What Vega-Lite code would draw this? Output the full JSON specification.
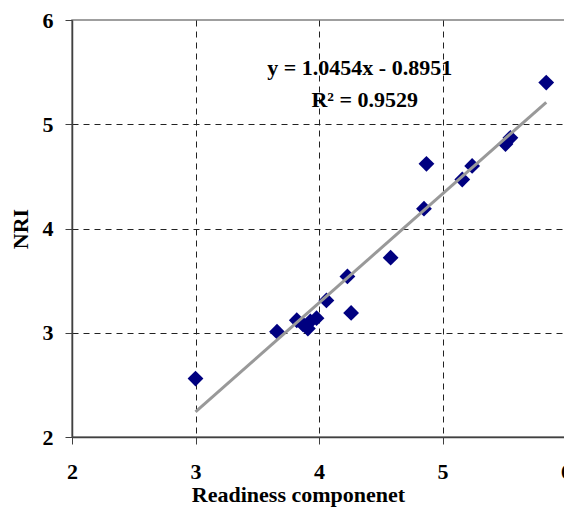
{
  "$schema": "https://vega.github.io/schema/vega-lite/v6.json",
  "autosize": "none",
  "width": 494,
  "height": 417,
  "padding": {"left": 72, "top": 20, "right": 0, "bottom": 70},
  "background": "white",
  "datasets": {
    "countries": [
      {"readiness": 3.00, "nri": 2.56},
      {"readiness": 3.66, "nri": 3.01},
      {"readiness": 3.82, "nri": 3.12},
      {"readiness": 3.87, "nri": 3.08},
      {"readiness": 3.91, "nri": 3.04},
      {"readiness": 3.93, "nri": 3.11},
      {"readiness": 3.98, "nri": 3.14},
      {"readiness": 4.06, "nri": 3.31},
      {"readiness": 4.23, "nri": 3.54},
      {"readiness": 4.26, "nri": 3.19},
      {"readiness": 4.58, "nri": 3.72},
      {"readiness": 4.85, "nri": 4.19},
      {"readiness": 4.87, "nri": 4.62},
      {"readiness": 5.16, "nri": 4.47},
      {"readiness": 5.24, "nri": 4.60},
      {"readiness": 5.51, "nri": 4.81},
      {"readiness": 5.55, "nri": 4.87},
      {"readiness": 5.84, "nri": 5.40}
    ],
    "trend": [
      {"readiness": 3.00, "nri": 2.2411},
      {"readiness": 5.84, "nri": 5.2100}
    ],
    "labels": [
      {"readiness": 4.33, "nri": 5.54, "text": "y = 1.0454x - 0.8951"},
      {"readiness": 4.37, "nri": 5.23, "text": "R² = 0.9529"}
    ]
  },
  "config": {
    "view": {"stroke": "#808080", "strokeWidth": 1.5},
    "font": "Liberation Serif",
    "axis": {
      "labelFont": "Liberation Serif",
      "labelFontSize": 22,
      "labelFontWeight": "bold",
      "labelColor": "black",
      "labelFlush": false,
      "labelOverlap": false,
      "format": "d",
      "titleFont": "Liberation Serif",
      "titleFontSize": 22,
      "titleFontWeight": "bold",
      "titleColor": "black",
      "domainColor": "#404040",
      "domainWidth": 1.5,
      "tickColor": "#404040",
      "tickSize": 7,
      "tickWidth": 1,
      "grid": true,
      "gridColor": "#222222",
      "gridDash": [6, 5],
      "gridWidth": 1
    }
  },
  "layer": [
    {
      "data": {"name": "countries"},
      "mark": {"type": "point", "shape": "diamond", "filled": true, "size": 250, "color": "#000080", "opacity": 1},
      "encoding": {
        "x": {
          "field": "readiness",
          "type": "quantitative",
          "scale": {"domain": [2, 6], "nice": false, "zero": false},
          "axis": {
            "values": [2, 3, 4, 5, 6],
            "title": "Readiness componenet",
            "titleX": 226,
            "titlePadding": 2,
            "labelPadding": 17,
            "gridOpacity": {"condition": {"test": "datum.value == 2 || datum.value == 6", "value": 0}, "value": 1}
          }
        },
        "y": {
          "field": "nri",
          "type": "quantitative",
          "scale": {"domain": [2, 6], "nice": false, "zero": false},
          "axis": {
            "values": [2, 3, 4, 5, 6],
            "title": "NRI",
            "titlePadding": 10,
            "labelPadding": 12,
            "gridOpacity": {"condition": {"test": "datum.value == 2 || datum.value == 6", "value": 0}, "value": 1}
          }
        }
      }
    },
    {
      "data": {"name": "trend"},
      "mark": {"type": "line", "color": "#999999", "strokeWidth": 3},
      "encoding": {
        "x": {"field": "readiness", "type": "quantitative"},
        "y": {"field": "nri", "type": "quantitative"}
      }
    },
    {
      "data": {"name": "labels"},
      "mark": {"type": "text", "font": "Liberation Serif", "fontSize": 22, "fontWeight": "bold", "color": "black", "align": "center", "baseline": "middle"},
      "encoding": {
        "x": {"field": "readiness", "type": "quantitative"},
        "y": {"field": "nri", "type": "quantitative"},
        "text": {"field": "text"}
      }
    }
  ]
}
